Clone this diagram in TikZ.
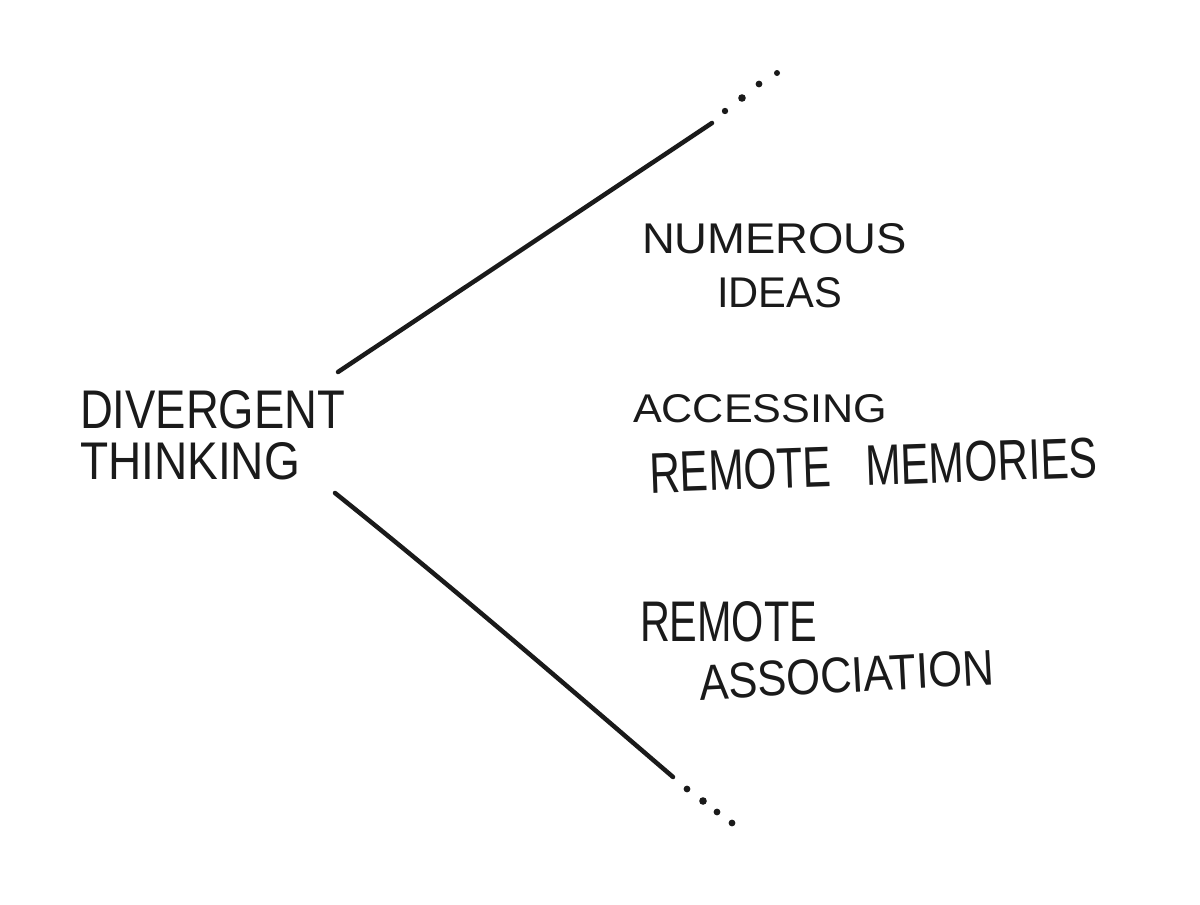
\documentclass[tikz,border=0pt]{standalone}
\usepackage{fontspec}
\setmainfont{Liberation Sans}
\usepackage{graphicx}
\definecolor{ink}{HTML}{1A1A1A}
\newcommand{\fitw}[3]{\resizebox{#1pt}{#2pt}{#3}}
\begin{document}
\begin{tikzpicture}[x=1pt,y=-1pt,
  txt/.style={inner sep=0pt,outer sep=0pt,anchor=base west,text=ink},
  stroke/.style={draw=ink,line width=4.5pt,line cap=round,line join=round},
  dotmark/.style={fill=ink,draw=none}]
\useasboundingbox[fill=white] (0,0) rectangle (1200,905);

% left label
\node[txt] (div) at (80,428) {\fitw{265}{38}{DIVERGENT}};
\node[txt] (think) at (80,479) {\fitw{220}{37}{THINKING}};

% right labels
\node[txt] (num) at (642,253) {\fitw{265}{30}{NUMEROUS}};
\node[txt] (ideas) at (717,307) {\fitw{125}{30}{IDEAS}};
\node[txt] (acc) at (633,422) {\fitw{254}{28}{ACCESSING}};
\node[txt,rotate=2] (remmem) at (650,493) {\fitw{448}{40}{REMOTE\hspace{0.8em}MEMORIES}};
\node[txt] (rem) at (640,641) {\fitw{177}{40}{REMOTE}};
\node[txt,rotate=3] (assoc) at (700,700) {\fitw{295}{35}{ASSOCIATION}};

% line ends
\coordinate (ustart) at (338,372);
\coordinate (uend) at (712,123);
\coordinate (lstart) at (335,493);
\coordinate (lend) at (673,777);

\draw[stroke] (ustart) -- (uend);
\draw[stroke] (lstart) .. controls (450,585) and (560,680) .. (lend);

% dots continuing the branches
\foreach \p/\r in {(725,111)/3.2,(742,98)/3.8,(759,84)/3.4,(777,73)/3}
  \fill[dotmark] \p circle (\r);
\foreach \p/\r in {(687,789)/3.4,(703,801)/3.8,(717,812)/3.4,(732,823)/3.4}
  \fill[dotmark] \p circle (\r);
\end{tikzpicture}
\end{document}
